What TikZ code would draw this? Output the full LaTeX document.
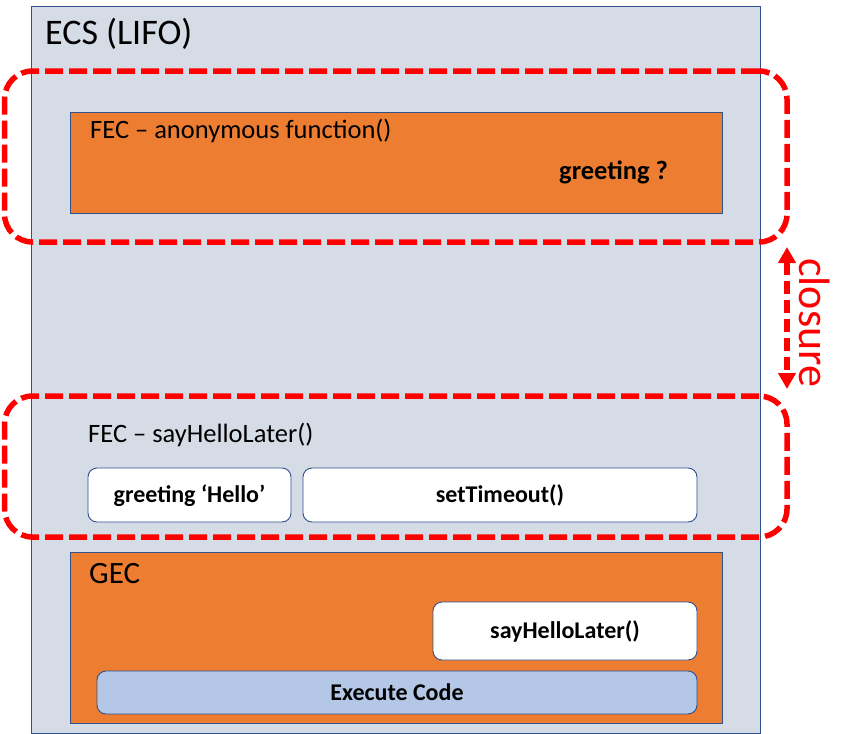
\documentclass[tikz,border=0pt]{standalone}
\usepackage{fontspec}
\setmainfont{Carlito}
\usetikzlibrary{arrows.meta}
\definecolor{ecsfill}{HTML}{D6DCE5}
\definecolor{edgeblue}{HTML}{2F528F}
\definecolor{orng}{HTML}{ED7D31}
\definecolor{execfill}{HTML}{B4C7E7}
\definecolor{redline}{HTML}{FF0000}
\begin{document}
\begin{tikzpicture}[x=1pt,y=-1pt,
  panel/.style={draw=edgeblue, line width=0.9pt, inner sep=0pt, outer sep=0pt, anchor=north west},
  orangebox/.style={panel, fill=orng},
  whitebox/.style={panel, fill=white, rounded corners=9pt, font=\fontsize{24}{28}\selectfont\bfseries, text height=15pt, text depth=0pt},
  execbox/.style={whitebox, fill=execfill},
  regtext/.style={anchor=base west, inner sep=0pt, font=\fontsize{26.5}{30}\selectfont},
  dashbox/.style={draw=redline, line width=5.5pt, dash pattern=on 18pt off 6pt, rounded corners=28pt, inner sep=0pt, outer sep=0pt, anchor=north west},
  closurearrow/.style={draw=redline, line width=5.5pt, dash pattern=on 13pt off 6pt, {Triangle[length=16pt,width=17pt]}-{Triangle[length=16pt,width=17pt]}}
]
\useasboundingbox (0,0) rectangle (855,734);

% ECS stack
\node[panel, fill=ecsfill, minimum width=729pt, minimum height=727pt] (ecs) at (31,6) {};
\node[anchor=base west, inner sep=0pt, font=\fontsize{36}{42}\selectfont] (ecslabel) at (45,44) {ECS (LIFO)};

% FEC anonymous function
\node[orangebox, minimum width=652pt, minimum height=101pt] (fecanon) at (70,112) {};
\node[regtext] (fecanonlabel) at (90,138) {FEC – anonymous function()};
\node[anchor=base west, inner sep=0pt, font=\fontsize{26.5}{30}\selectfont\bfseries] (greetq) at (559,179) {greeting ?};

% FEC sayHelloLater
\node[regtext] (fecsaylabel) at (88,442) {FEC – sayHelloLater()};
\node[whitebox, minimum width=203pt, minimum height=54pt] (hello) at (88,468) {greeting ‘Hello’};
\node[whitebox, minimum width=394pt, minimum height=54pt] (timeout) at (303,468) {setTimeout()};

% GEC
\node[orangebox, minimum width=652pt, minimum height=171pt] (gec) at (70,552) {};
\node[anchor=base west, inner sep=0pt, font=\fontsize{31}{36}\selectfont] (geclabel) at (89,583) {GEC};
\node[whitebox, minimum width=264pt, minimum height=58pt] (sayhello) at (433,602) {sayHelloLater()};
\node[execbox, minimum width=600pt, minimum height=43pt] (exec) at (97,671) {Execute Code};

% closure scopes
\node[dashbox, minimum width=782.5pt, minimum height=171pt] (scopeanon) at (4.5,71) {};
\node[dashbox, minimum width=782.5pt, minimum height=141pt] (scopesay) at (4.5,396) {};

\coordinate (arrtop) at ([yshift=-5pt]scopeanon.south east);
\coordinate (arrbot) at ([yshift=7pt]scopesay.north east);
\draw[closurearrow] (arrtop) -- (arrbot);
\node[rotate=-90, anchor=base west, inner sep=0pt, text=redline, font=\fontsize{44}{50}\selectfont] (closurelabel) at (799,258) {closure};
\end{tikzpicture}
\end{document}
